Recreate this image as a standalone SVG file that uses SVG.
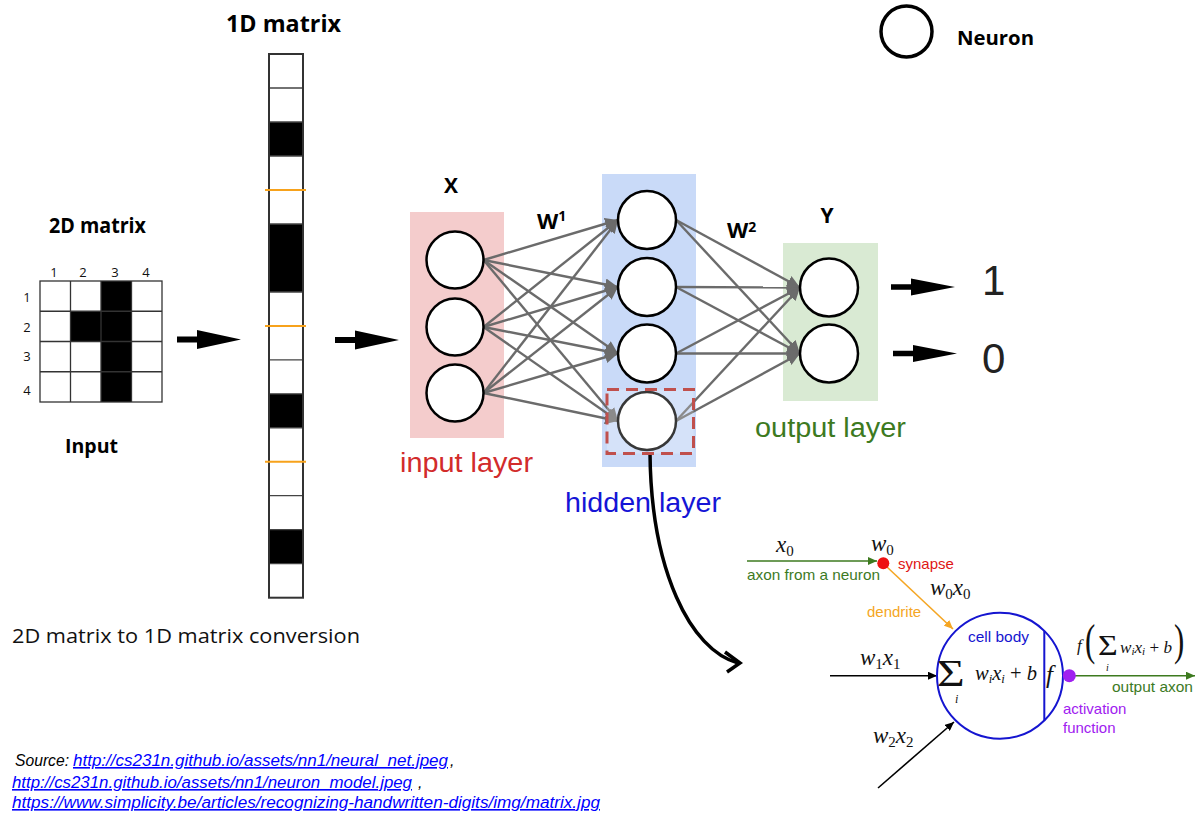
<svg xmlns="http://www.w3.org/2000/svg" width="1204" height="823" viewBox="0 0 1204 823">
<defs>
<style>
.bold{font-family:"Open Sans","Liberation Sans",sans-serif;font-weight:700;fill:#000}
.seg{font-family:"Open Sans","Liberation Sans",sans-serif;fill:#111}
.lbl{font-family:"Liberation Sans",Arial,sans-serif}
.math{font-family:"Liberation Serif","DejaVu Serif",serif;font-style:italic;fill:#111}
.up{font-style:normal}
.neuron{fill:#fff;stroke:#000;stroke-width:2.5}
.conn{stroke:#6b6b6b;stroke-width:2.4;fill:none;marker-end:url(#ga)}
.blk{fill:#000}
.orange{stroke:#f7a21b;stroke-width:2}
.link{font-family:"Liberation Sans",sans-serif;font-style:italic;fill:#0000ff;text-decoration:underline;font-size:16px}
.src{font-family:"Liberation Sans",sans-serif;font-style:italic;fill:#000;font-size:16px}
.num{font-family:"Open Sans","Liberation Sans",sans-serif;font-size:13px;fill:#111}
.nm{font-family:"Liberation Sans",Arial,sans-serif;font-size:15px}
</style>
<marker id="ga" markerUnits="userSpaceOnUse" markerWidth="14" markerHeight="12" refX="13" refY="6" orient="auto"><path d="M0,0 L13,6 L0,12 z" fill="#6b6b6b"/></marker>
<marker id="mg" markerUnits="userSpaceOnUse" markerWidth="10" markerHeight="8" refX="9" refY="4" orient="auto"><path d="M0,0 L9,4 L0,8 z" fill="#3d7a1f"/></marker>
<marker id="mo" markerUnits="userSpaceOnUse" markerWidth="10" markerHeight="8" refX="9" refY="4" orient="auto"><path d="M0,0 L9,4 L0,8 z" fill="#f5a623"/></marker>
<marker id="mb" markerUnits="userSpaceOnUse" markerWidth="10" markerHeight="8" refX="9" refY="4" orient="auto"><path d="M0,0 L9,4 L0,8 z" fill="#000"/></marker>
<path id="bigArrow" d="M0,-3 L20,-3 L20,-9.5 L64,0 L20,9.5 L20,3 L0,3 z" fill="#000"/>
</defs>
<rect width="1204" height="823" fill="#fff"/>

<!-- 2D matrix -->
<g id="matrix2d">
<text class="bold" x="49" y="233" font-size="21" textLength="97" lengthAdjust="spacingAndGlyphs">2D matrix</text>
<rect x="40" y="281" width="122" height="121" fill="#fff"/>
<rect class="blk" x="101" y="281" width="30.5" height="121"/>
<rect class="blk" x="70.5" y="311.25" width="30.5" height="30.25"/>
<g stroke="#333" stroke-width="1.3" fill="none">
<rect x="40" y="281" width="122" height="121"/>
<path d="M70.5,281V402M101,281V402M131.5,281V402M40,311.25H162M40,341.5H162M40,371.75H162"/>
</g>
<g class="num" text-anchor="middle">
<text x="54" y="277">1</text><text x="83" y="277">2</text><text x="115" y="277">3</text><text x="146" y="277">4</text>
<text x="27" y="302">1</text><text x="27" y="332">2</text><text x="27" y="361">3</text><text x="27" y="395">4</text>
</g>
<text class="bold" x="65" y="453" font-size="20" textLength="53" lengthAdjust="spacingAndGlyphs">Input</text>
</g>

<!-- 1D matrix -->
<g id="matrix1d">
<text class="bold" x="226" y="32" font-size="24" textLength="115" lengthAdjust="spacingAndGlyphs">1D matrix</text>
<rect x="269" y="54" width="34" height="543.7" fill="#fff"/>
<rect class="blk" x="269" y="122" width="34" height="34"/>
<rect class="blk" x="269" y="224" width="34" height="68"/>
<rect class="blk" x="269" y="393.8" width="34" height="34"/>
<rect class="blk" x="269" y="529.7" width="34" height="34"/>
<g stroke="#444" stroke-width="1.3" fill="none">
<path d="M269,88H303M269,122H303M269,156H303M269,224H303M269,292H303M269,359.8H303M269,393.8H303M269,427.8H303M269,495.7H303M269,529.7H303M269,563.7H303"/>
</g>
<rect x="269" y="54" width="34" height="543.7" fill="none" stroke="#333" stroke-width="2"/>
<g class="orange"><path d="M265,190H306M265,325.9H306M265,461.8H306"/></g>
<text class="seg" x="12" y="643" font-size="20" textLength="348" lengthAdjust="spacingAndGlyphs">2D matrix to 1D matrix conversion</text>
</g>

<!-- Layers -->
<g id="input-layer">
<rect x="410" y="212" width="94" height="226" fill="#f4cccc"/>
<text class="bold" x="451" y="193" font-size="21" text-anchor="middle">X</text>
<text class="lbl" x="400" y="472" font-size="27" fill="#d22b2b" textLength="133" lengthAdjust="spacingAndGlyphs">input layer</text>
</g>
<g id="hidden-layer">
<rect x="602" y="174" width="94" height="293" fill="#c9daf8"/>
<text class="lbl" x="565" y="512" font-size="27" fill="#1515d6" textLength="156" lengthAdjust="spacingAndGlyphs">hidden layer</text>
</g>
<g id="output-layer">
<rect x="783" y="243" width="95" height="158" fill="#d9ead3"/>
<text class="bold" x="827" y="223" font-size="21" text-anchor="middle">Y</text>
<text class="lbl" x="755" y="437" font-size="27" fill="#3d7a1f" textLength="151" lengthAdjust="spacingAndGlyphs">output layer</text>
</g>
<g id="weights">
<text class="bold" x="537" y="229" font-size="22">W<tspan font-size="14" dy="-8">1</tspan></text>
<text class="bold" x="727" y="238" font-size="22">W<tspan font-size="14" dy="-6">2</tspan></text>
</g>

<!-- Connectors -->
<g id="connectors">
<g id="w1-links">
<path class="conn" d="M483.5,260L618,220"/><path class="conn" d="M483.5,260L618,287"/><path class="conn" d="M483.5,260L618,353.5"/><path class="conn" d="M483.5,260L618,421"/>
<path class="conn" d="M483.5,327L618,220"/><path class="conn" d="M483.5,327L618,287"/><path class="conn" d="M483.5,327L618,353.5"/><path class="conn" d="M483.5,327L618,421"/>
<path class="conn" d="M483.5,393L618,220"/><path class="conn" d="M483.5,393L618,287"/><path class="conn" d="M483.5,393L618,353.5"/><path class="conn" d="M483.5,393L618,421"/>
</g>
<g id="w2-links">
<path class="conn" d="M676,220L800,287.5"/><path class="conn" d="M676,220L800,353.5"/>
<path class="conn" d="M676,287L800,287.5"/><path class="conn" d="M676,287L800,353.5"/>
<path class="conn" d="M676,353.5L800,287.5"/><path class="conn" d="M676,353.5L800,353.5"/>
<path class="conn" d="M676,421L800,287.5"/><path class="conn" d="M676,421L800,353.5"/>
</g>
<use href="#bigArrow" transform="translate(177,339.5)"/>
<use href="#bigArrow" transform="translate(335,340)"/>
<use href="#bigArrow" transform="translate(891,287) scale(1,0.9)"/>
<use href="#bigArrow" transform="translate(893,353.5) scale(1,0.9)"/>
<path d="M650,453 C651,570 690,650 738,663" fill="none" stroke="#000" stroke-width="3.5"/>
<polyline points="725,652 740,663 727,672" fill="none" stroke="#000" stroke-width="3.5" stroke-linejoin="miter"/>
</g>

<!-- Neurons -->
<g id="input-neurons">
<circle class="neuron" cx="455" cy="260" r="28.5"/>
<circle class="neuron" cx="455" cy="327" r="28.5"/>
<circle class="neuron" cx="455" cy="393" r="28.5"/>
</g>
<g id="hidden-neurons">
<circle class="neuron" cx="647" cy="220" r="29"/>
<circle class="neuron" cx="647" cy="287" r="29"/>
<circle class="neuron" cx="647" cy="353.5" r="29"/>
<circle class="neuron" cx="647" cy="421" r="29"/>
</g>
<g id="selected-box">
<rect x="607" y="389.5" width="86.5" height="64" fill="#fff" fill-opacity="0.22" stroke="#c0504d" stroke-width="3" stroke-dasharray="12,7"/>
</g>
<g id="output-neurons">
<circle class="neuron" cx="829" cy="287.5" r="29"/>
<circle class="neuron" cx="829" cy="353.5" r="29"/>
</g>
<g id="outputs">
<text class="lbl" x="982" y="295" font-size="42" fill="#222">1</text>
<text class="lbl" x="982" y="373" font-size="42" fill="#222">0</text>
</g>

<!-- Legend -->
<g id="legend">
<circle cx="906.5" cy="31.5" r="25.5" fill="#fff" stroke="#000" stroke-width="3.5"/>
<text class="bold" x="957" y="45" font-size="20" textLength="77" lengthAdjust="spacingAndGlyphs">Neuron</text>
</g>

<!-- Neuron model -->
<g id="neuron-model">
<line x1="747" y1="561" x2="877" y2="561" stroke="#3d7a1f" stroke-width="1.6" marker-end="url(#mg)"/>
<line x1="887" y1="567" x2="953" y2="629" stroke="#f5a623" stroke-width="1.6" marker-end="url(#mo)"/>
<line x1="830" y1="675.7" x2="937" y2="675.7" stroke="#000" stroke-width="1.6" marker-end="url(#mb)"/>
<line x1="878" y1="788" x2="954" y2="722" stroke="#000" stroke-width="1.6" marker-end="url(#mb)"/>
<line x1="1075" y1="675.7" x2="1195" y2="675.7" stroke="#3d7a1f" stroke-width="1.6" marker-end="url(#mg)"/>
<circle cx="883.3" cy="563.3" r="6" fill="#ee1111"/>
<circle cx="1000" cy="675.7" r="63" fill="none" stroke="#1515d0" stroke-width="2"/>
<line x1="1044.3" y1="631" x2="1044.3" y2="720.5" stroke="#1515d0" stroke-width="2"/>
<circle cx="1069.3" cy="675.7" r="6.5" fill="#a020f0"/>
<text class="math" x="776" y="552" font-size="23">x<tspan class="up" font-size="15" dy="4">0</tspan></text>
<text class="math" x="871" y="551" font-size="23">w<tspan class="up" font-size="15" dy="4">0</tspan></text>
<text class="math" x="930" y="595" font-size="23">w<tspan class="up" font-size="15" dy="4">0</tspan><tspan dy="-4">x</tspan><tspan class="up" font-size="15" dy="4">0</tspan></text>
<text class="math" x="860" y="665" font-size="23">w<tspan class="up" font-size="15" dy="4">1</tspan><tspan dy="-4">x</tspan><tspan class="up" font-size="15" dy="4">1</tspan></text>
<text class="math" x="873" y="743" font-size="23">w<tspan class="up" font-size="15" dy="4">2</tspan><tspan dy="-4">x</tspan><tspan class="up" font-size="15" dy="4">2</tspan></text>
<text class="math up" x="937" y="686" font-size="38" transform="translate(937,0) scale(1.25,1) translate(-937,0)">Σ</text>
<text class="math" x="955" y="703" font-size="12">i</text>
<text class="math" x="975" y="680" font-size="21" textLength="62" lengthAdjust="spacingAndGlyphs">w<tspan font-size="13" dy="3">i</tspan><tspan dy="-3">x</tspan><tspan font-size="13" dy="3">i</tspan><tspan class="up" dy="-3"> + </tspan>b</text>
<text class="math" x="1046" y="683" font-size="25">f</text>
<text class="math" x="1077" y="651" font-size="17">f</text>
<text class="math up" x="1085" y="655" font-size="44" transform="translate(1085,0) scale(0.7,1) translate(-1085,0)">(</text>
<text class="math up" x="1098" y="655" font-size="30" transform="translate(1098,0) scale(1.13,1) translate(-1098,0)">Σ</text>
<text class="math" x="1106" y="671" font-size="10">i</text>
<text class="math" x="1120" y="653" font-size="17" textLength="52" lengthAdjust="spacingAndGlyphs">w<tspan font-size="11" dy="2">i</tspan><tspan dy="-2">x</tspan><tspan font-size="11" dy="2">i</tspan><tspan class="up" dy="-2"> + </tspan>b</text>
<text class="math up" x="1174" y="655" font-size="44" transform="translate(1174,0) scale(0.7,1) translate(-1174,0)">)</text>
<text class="nm" x="898" y="569" fill="#e01515">synapse</text>
<text class="nm" x="747" y="580" fill="#3d7a1f" textLength="133" lengthAdjust="spacingAndGlyphs">axon from a neuron</text>
<text class="nm" x="867" y="617" fill="#f5a623">dendrite</text>
<text class="nm" x="968" y="642" fill="#1515d0" textLength="61" lengthAdjust="spacingAndGlyphs">cell body</text>
<text class="nm" x="1112" y="692" fill="#3d7a1f" textLength="81" lengthAdjust="spacingAndGlyphs">output axon</text>
<text class="nm" x="1063" y="714" fill="#a020f0">activation</text>
<text class="nm" x="1063" y="733" fill="#a020f0">function</text>
</g>

<!-- Sources -->
<g id="sources">
<text class="src" x="15" y="766" textLength="54" lengthAdjust="spacingAndGlyphs">Source:</text>
<text class="link" x="73" y="766" textLength="375" lengthAdjust="spacingAndGlyphs">http://cs231n.github.io/assets/nn1/neural_net.jpeg</text>
<text class="src" x="450" y="766">,</text>
<text class="link" x="12" y="788" textLength="400" lengthAdjust="spacingAndGlyphs">http://cs231n.github.io/assets/nn1/neuron_model.jpeg</text>
<text class="src" x="418" y="788">,</text>
<text class="link" x="12" y="808" textLength="588" lengthAdjust="spacingAndGlyphs">https://www.simplicity.be/articles/recognizing-handwritten-digits/img/matrix.jpg</text>
</g>
</svg>
